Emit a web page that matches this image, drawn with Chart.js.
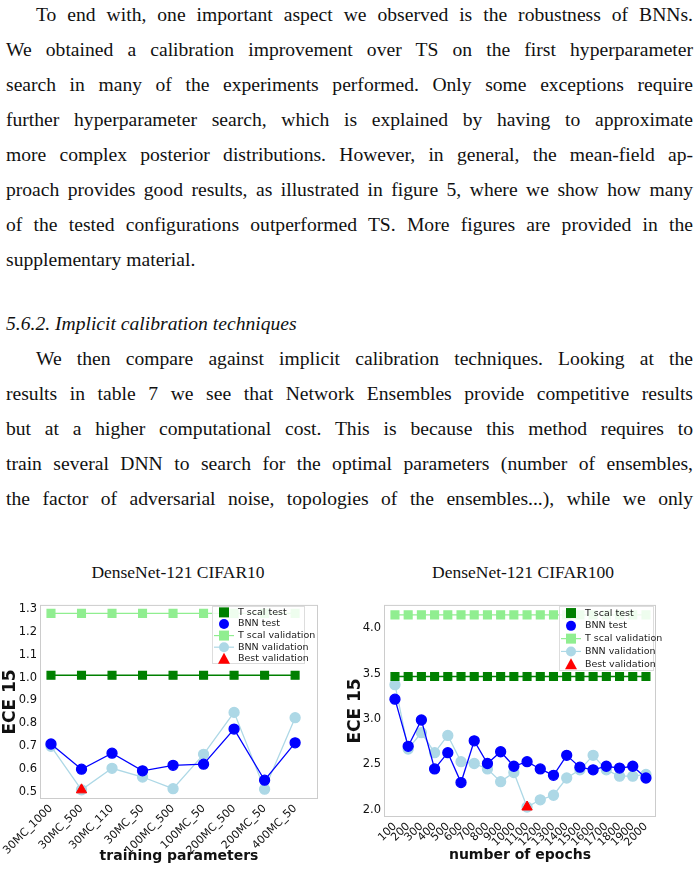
<!DOCTYPE html>
<html><head><meta charset="utf-8">
<script src="https://cdn.jsdelivr.net/npm/chart.js"></script>
<style>
body{margin:0;width:699px;height:885px;background:#fff;position:relative;overflow:hidden;font-family:"Liberation Serif","DejaVu Serif",serif;color:#111}
.l{position:absolute;left:6px;width:687px;font-size:19.6px;text-align:justify;text-align-last:justify;white-space:nowrap;line-height:20px}
.ll{text-align-last:left}
.t{position:absolute;font-size:17.5px;width:350px;text-align:center;top:562px}
canvas{position:absolute}
</style></head><body>
<div class="l" style="top:5px;padding-left:30px;width:657px">To end with, one important aspect we observed is the robustness of BNNs.</div>
<div class="l" style="top:40px">We obtained a calibration improvement over TS on the first hyperparameter</div>
<div class="l" style="top:75px">search in many of the experiments performed. Only some exceptions require</div>
<div class="l" style="top:110px">further hyperparameter search, which is explained by having to approximate</div>
<div class="l" style="top:145px">more complex posterior distributions. However, in general, the mean-field ap-</div>
<div class="l" style="top:180px">proach provides good results, as illustrated in figure 5, where we show how many</div>
<div class="l" style="top:215px">of the tested configurations outperformed TS. More figures are provided in the</div>
<div class="l ll" style="top:250px">supplementary material.</div>
<div class="l ll" style="top:314px;font-style:italic">5.6.2. Implicit calibration techniques</div>
<div class="l" style="top:349px;padding-left:30px;width:657px">We then compare against implicit calibration techniques. Looking at the</div>
<div class="l" style="top:384px">results in table 7 we see that Network Ensembles provide competitive results</div>
<div class="l" style="top:419px">but at a higher computational cost. This is because this method requires to</div>
<div class="l" style="top:454px">train several DNN to search for the optimal parameters (number of ensembles,</div>
<div class="l" style="top:489px">the factor of adversarial noise, topologies of the ensembles...), while we only</div>
<div class="t" style="left:3px">DenseNet-121 CIFAR10</div>
<div class="t" style="left:348px">DenseNet-121 CIFAR100</div>
<canvas id="c1" style="left:0;top:595px" width="340" height="290"></canvas>
<canvas id="c2" style="left:345px;top:595px" width="354" height="290"></canvas>
<script>
const cats1=["30MC_1000","30MC_500","30MC_110","30MC_50","100MC_500","100MC_50","200MC_500","200MC_50","400MC_50"];
const tsTest1=[1.01,1.01,1.01,1.01,1.01,1.01,1.01,1.01,1.01];
const bnnTest1=[0.71,0.60,0.67,0.593,0.617,0.622,0.775,0.552,0.715];
const tsVal1=[1.28,1.28,1.28,1.28,1.28,1.28,1.28,1.28,1.28];
const bnnVal1=[0.70,0.51,0.604,0.566,0.515,0.665,0.848,0.513,0.825];
const best1={i:1,v:0.51};
const yTicks1=[0.5,0.6,0.7,0.8,0.9,1.0,1.1,1.2,1.3];

const cats2=["100","200","300","400","500","600","700","800","900","1000","1100","1200","1300","1400","1500","1600","1700","1800","1900","2000"];
const tsTest2=Array(20).fill(3.47);
const bnnTest2=[3.22,2.70,2.99,2.45,2.63,2.30,2.76,2.51,2.64,2.48,2.53,2.45,2.38,2.60,2.47,2.44,2.48,2.46,2.48,2.35];
const tsVal2=Array(20).fill(4.15);
const bnnVal2=[3.38,2.67,2.85,2.63,2.82,2.53,2.51,2.45,2.31,2.41,2.03,2.11,2.16,2.35,2.44,2.60,2.44,2.37,2.37,2.39];
const best2={i:10,v:2.03};
const yTicks2=[2.0,2.5,3.0,3.5,4.0];

const legendItems=[["T scal test","rect","#008000",false],["BNN test","circle","#0000ff",false],["T scal validation","rect","#90ee90",true],["BNN validation","circle","#add8e6",true],["Best validation","triangle","#ff0000",false]];

function pts(a){return a.map((v,i)=>({x:i,y:v}));}
function make(id,cats,tt,bt,tv,bv,best,yt,ymin,ymax,xmin,xmax,ytitle,xtitle,yw,xh,padR,padB,leg,legFont){
  const legendPlugin={id:'lg',afterDatasetsDraw(ch){
    const c=ch.ctx;c.save();
    c.fillStyle='rgba(255,255,255,0.85)';c.strokeStyle='#ddd';c.lineWidth=1;
    c.fillRect(leg.x,leg.y,leg.w,leg.h);c.strokeRect(leg.x+0.5,leg.y+0.5,leg.w,leg.h);
    c.font=legFont+'px "DejaVu Sans"';c.textBaseline='middle';
    legendItems.forEach((it,k)=>{
      const y=leg.y+leg.dy*0.55+k*leg.dy, mx=leg.x+12;
      c.fillStyle=it[2];c.strokeStyle=it[2];
      if(it[3]){c.lineWidth=1.2;c.beginPath();c.moveTo(mx-10,y);c.lineTo(mx+10,y);c.stroke();}
      c.beginPath();
      if(it[1]=='rect')c.rect(mx-5,y-5,10,10);
      else if(it[1]=='circle')c.arc(mx,y,5,0,Math.PI*2);
      else{c.moveTo(mx,y-6);c.lineTo(mx+6,y+5);c.lineTo(mx-6,y+5);c.closePath();}
      c.fill();
      c.fillStyle='#222';c.fillText(it[0],leg.x+26,y);
    });
    c.restore();}};
  const frame={id:'fr',beforeDatasetsDraw(ch){const a=ch.chartArea,c=ch.ctx;c.save();c.strokeStyle='#ccc';c.lineWidth=1;c.strokeRect(a.left+0.5,a.top+0.5,a.right-a.left-1,a.bottom-a.top-1);c.restore();}};
  new Chart(document.getElementById(id),{type:'line',
    data:{datasets:[
      {data:pts(tv),borderColor:'#90ee90',backgroundColor:'#90ee90',pointStyle:'rect',pointRadius:5.5,borderWidth:1.3,order:4},
      {data:pts(bv),borderColor:'#add8e6',backgroundColor:'#add8e6',pointStyle:'circle',pointRadius:5,borderWidth:1.3,order:3},
      {data:pts(tt),borderColor:'#008000',backgroundColor:'#008000',pointStyle:'rect',pointRadius:5.5,borderWidth:1.3,order:2},
      {data:pts(bt),borderColor:'#0000ff',backgroundColor:'#0000ff',pointStyle:'circle',pointRadius:5,borderWidth:1.3,order:1},
      {data:[{x:best.i,y:best.v}],showLine:false,borderColor:'#ff0000',backgroundColor:'#ff0000',pointStyle:'triangle',pointRadius:6,order:0}
    ]},
    options:{animation:false,responsive:false,devicePixelRatio:1,
      layout:{padding:{left:0,right:padR,top:7,bottom:padB}},
      plugins:{legend:{display:false},tooltip:{enabled:false}},
      scales:{
        x:{type:'linear',min:xmin,max:xmax,grid:{display:false,drawTicks:false,tickLength:0},border:{display:false},
          afterBuildTicks(s){s.ticks=cats.map((c,i)=>({value:i}));},
          afterFit(s){s.height=xh;},
          ticks:{autoSkip:false,maxRotation:45,minRotation:45,color:'#111',font:{family:'DejaVu Sans',size:11},padding:3,callback:(v)=>cats[v]},
          title:{display:true,text:xtitle,color:'#111',font:{family:'DejaVu Sans',weight:'bold',size:14},padding:{top:0,bottom:0}}},
        y:{min:ymin,max:ymax,grid:{display:false,drawTicks:false,tickLength:0},border:{display:false},
          afterBuildTicks(s){s.ticks=yt.map(v=>({value:v}));},
          afterFit(s){s.width=yw;},
          ticks:{color:'#111',font:{family:'DejaVu Sans',size:11.5},padding:3,callback:v=>v.toFixed(1)},
          title:{display:true,text:ytitle,color:'#111',font:{family:'DejaVu Sans',weight:'bold',size:17},padding:{top:0,bottom:0}}}
      }},
    plugins:[frame,legendPlugin]});
}
make('c1',cats1,tsTest1,bnnTest1,tsVal1,bnnVal1,best1,yTicks1,0.47,1.317,-0.36,8.75,'ECE 15','training parameters',40,66,22,20,{x:212,y:11,w:92,h:57,dy:11.6},9.5);
make('c2',cats2,tsTest2,bnnTest2,tsVal2,bnnVal2,best2,yTicks2,1.92,4.26,-0.83,19.76,'ECE 15','number of epochs',39,47,43,21,{x:214,y:11,w:94,h:64,dy:12.8},9.5);
</script>
</body></html>
